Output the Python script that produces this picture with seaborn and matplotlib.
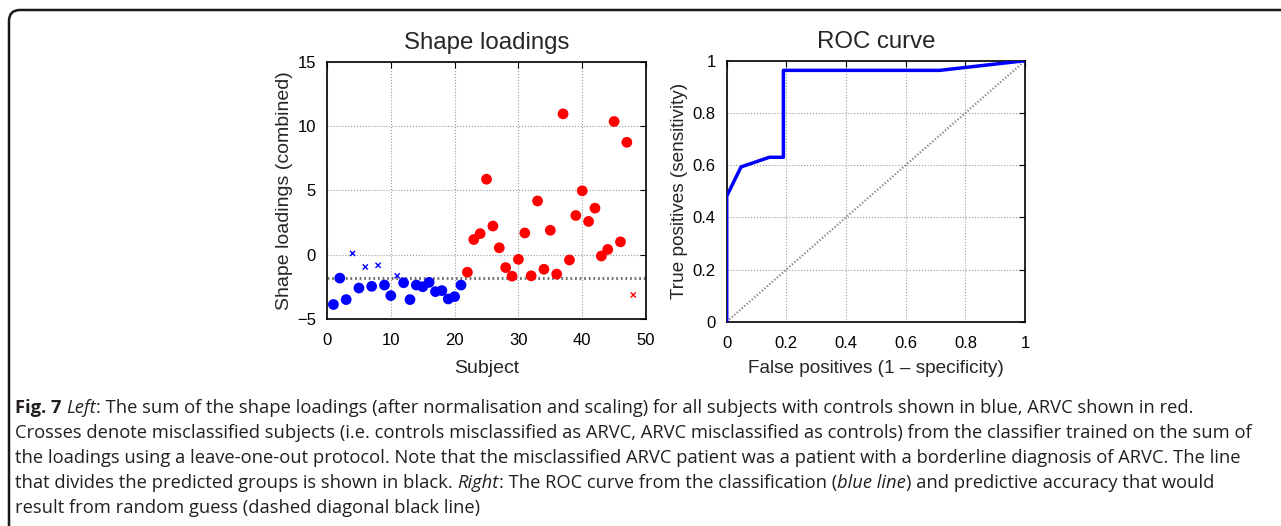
import numpy as np
import pandas as pd
import matplotlib
matplotlib.use('Agg')
import matplotlib.pyplot as plt
from matplotlib.patches import FancyBboxPatch
from matplotlib.transforms import IdentityTransform
import seaborn as sns

# --- data ---
subjects = [1, 2, 3, 4, 5, 6, 7, 8, 9, 10, 11, 12, 13, 14, 15, 16, 17, 18, 19, 20, 21, 22, 23, 24,
            25, 26, 27, 28, 29, 30, 31, 32, 33, 34, 35, 36, 37, 38, 39, 40, 41, 42, 43, 44, 45, 46, 47, 48]
loadings = [-3.87, -1.82, -3.49, 0.10, -2.59, -0.95, -2.46, -0.82, -2.36, -3.18, -1.64, -2.18,
            -3.49, -2.36, -2.49, -2.15, -2.87, -2.79, -3.44, -3.26, -2.36,
            -1.36, 1.18, 1.64, 5.87, 2.23, 0.54, -1.0, -1.67, -0.36, 1.69, -1.64, 4.18, -1.13,
            1.90, -1.51, 10.95, -0.41, 3.05, 4.97, 2.59, 3.62, -0.10, 0.41, 10.36, 1.0, 8.74, -3.13]
group = ['control'] * 21 + ['ARVC'] * 27
misclassified = [4, 6, 8, 11, 48]
threshold = -1.82

fpr = [0, 0, 0.048, 0.143, 0.190, 0.190, 0.714, 1.0]
tpr = [0, 0.481, 0.593, 0.630, 0.630, 0.963, 0.963, 1.0]

df = pd.DataFrame({'subject': subjects, 'loading': loadings, 'group': group})
df['wrong'] = df['subject'].isin(misclassified)
ok = df[~df['wrong']]
bad = df[df['wrong']]
roc = pd.DataFrame({'fpr': fpr, 'tpr': tpr})

sns.set_style('white')
plt.rcParams['font.family'] = ['Liberation Sans', 'DejaVu Sans']
colors = {'control': '#0000ff', 'ARVC': '#ff0000'}

W, H = 1281, 526
fig = plt.figure(figsize=(W / 100, H / 100), dpi=100)

# rounded frame of the caption box (cut off on right and bottom), in pixels
frame = FancyBboxPatch((9, -100), 1500, H - 10 + 100,
                       boxstyle='round,pad=0.0,rounding_size=11',
                       transform=IdentityTransform(), fill=False, lw=1.8, ec='#1a1a1a')
fig.add_artist(frame)

ax1 = fig.add_axes([0.2553, 0.3935, 0.2490, 0.4890])
ax2 = fig.add_axes([0.5673, 0.3884, 0.2329, 0.4962])

# left: shape loadings
ax1.axhline(threshold, color='#777777', lw=2.2, ls=(0, (0.6, 0.9)), zorder=1)
sns.scatterplot(data=ok, x='subject', y='loading', hue='group', palette=colors,
                s=60, edgecolor='none', legend=False, ax=ax1, zorder=3)
sns.scatterplot(data=bad, x='subject', y='loading', hue='group', palette=colors,
                marker='x', s=14, linewidth=1.0, legend=False, ax=ax1, zorder=3)
ax1.set_xlim(0, 50)
ax1.set_ylim(-5, 15)
ax1.set_xticks([0, 10, 20, 30, 40, 50])
ax1.set_yticks([-5, 0, 5, 10, 15])
ax1.set_yticklabels(['\u22125', '0', '5', '10', '15'])
ax1.set_xlabel('Subject', fontsize=14, labelpad=9)
ax1.set_ylabel('Shape loadings (combined)', fontsize=14, labelpad=3)
ax1.set_title('Shape loadings', fontsize=17.3, pad=9)

# right: ROC curve
ax2.plot([0, 1], [0, 1], color='#888888', lw=1.6, ls=(0, (0.6, 0.9)), zorder=1)
sns.lineplot(data=roc, x='fpr', y='tpr', color='#0000ff', lw=2.5, sort=False,
             estimator=None, ax=ax2, zorder=3)
ax2.set_xlim(0, 1)
ax2.set_ylim(0, 1)
ticks = [0, 0.2, 0.4, 0.6, 0.8, 1]
ax2.set_xticks(ticks)
ax2.set_yticks(ticks)
ax2.set_xticklabels(['0', '0.2', '0.4', '0.6', '0.8', '1'])
ax2.set_yticklabels(['0', '0.2', '0.4', '0.6', '0.8', '1'])
ax2.set_xlabel('False positives (1 \u2013 specificity)', fontsize=13.7, labelpad=7)
ax2.set_ylabel('True positives (sensitivity)', fontsize=13.7, labelpad=3)
ax2.set_title('ROC curve', fontsize=17.3, pad=9)

for ax in (ax1, ax2):
    ax.grid(True, color='#999999', ls=':', lw=0.8)
    ax.tick_params(direction='in', length=4, width=0.8, labelsize=12,
                   top=True, right=True, colors='black')
    ax.tick_params(axis='x', pad=10)
    ax.tick_params(axis='y', pad=8)
    for sp in ax.spines.values():
        sp.set_visible(True)
        sp.set_color('black')
        sp.set_linewidth(1.2)

# caption with mixed styles
caption = [
    [('Fig. 7', 'bold', 'normal'), (' ', 'normal', 'normal'), ('Left', 'normal', 'italic'),
     (': The sum of the shape loadings (after normalisation and scaling) for all subjects with '
      'controls shown in blue, ARVC shown in red.', 'normal', 'normal')],
    [('Crosses denote misclassified subjects (i.e. controls misclassified as ARVC, ARVC '
      'misclassified as controls) from the classifier trained on the sum of', 'normal', 'normal')],
    [('the loadings using a leave-one-out protocol. Note that the misclassified ARVC patient was '
      'a patient with a borderline diagnosis of ARVC. The line', 'normal', 'normal')],
    [('that divides the predicted groups is shown in black. ', 'normal', 'normal'),
     ('Right', 'normal', 'italic'),
     (': The ROC curve from the classification (', 'normal', 'normal'),
     ('blue line', 'normal', 'italic'),
     (') and predictive accuracy that would', 'normal', 'normal')],
    [('result from random guess (dashed diagonal black line)', 'normal', 'normal')],
]

renderer = fig.canvas.get_renderer()
y_px = 413
for line in caption:
    x_px = 15
    for txt, weight, style in line:
        t = fig.text(x_px / W, 1 - y_px / H, txt, fontsize=13.2, fontweight=weight,
                     fontstyle=style, family=['Open Sans', 'DejaVu Sans'],
                     color='#231f20', va='baseline', ha='left')
        x_px += t.get_window_extent(renderer).width
    y_px += 25

fig.savefig('out.png', dpi=100)
